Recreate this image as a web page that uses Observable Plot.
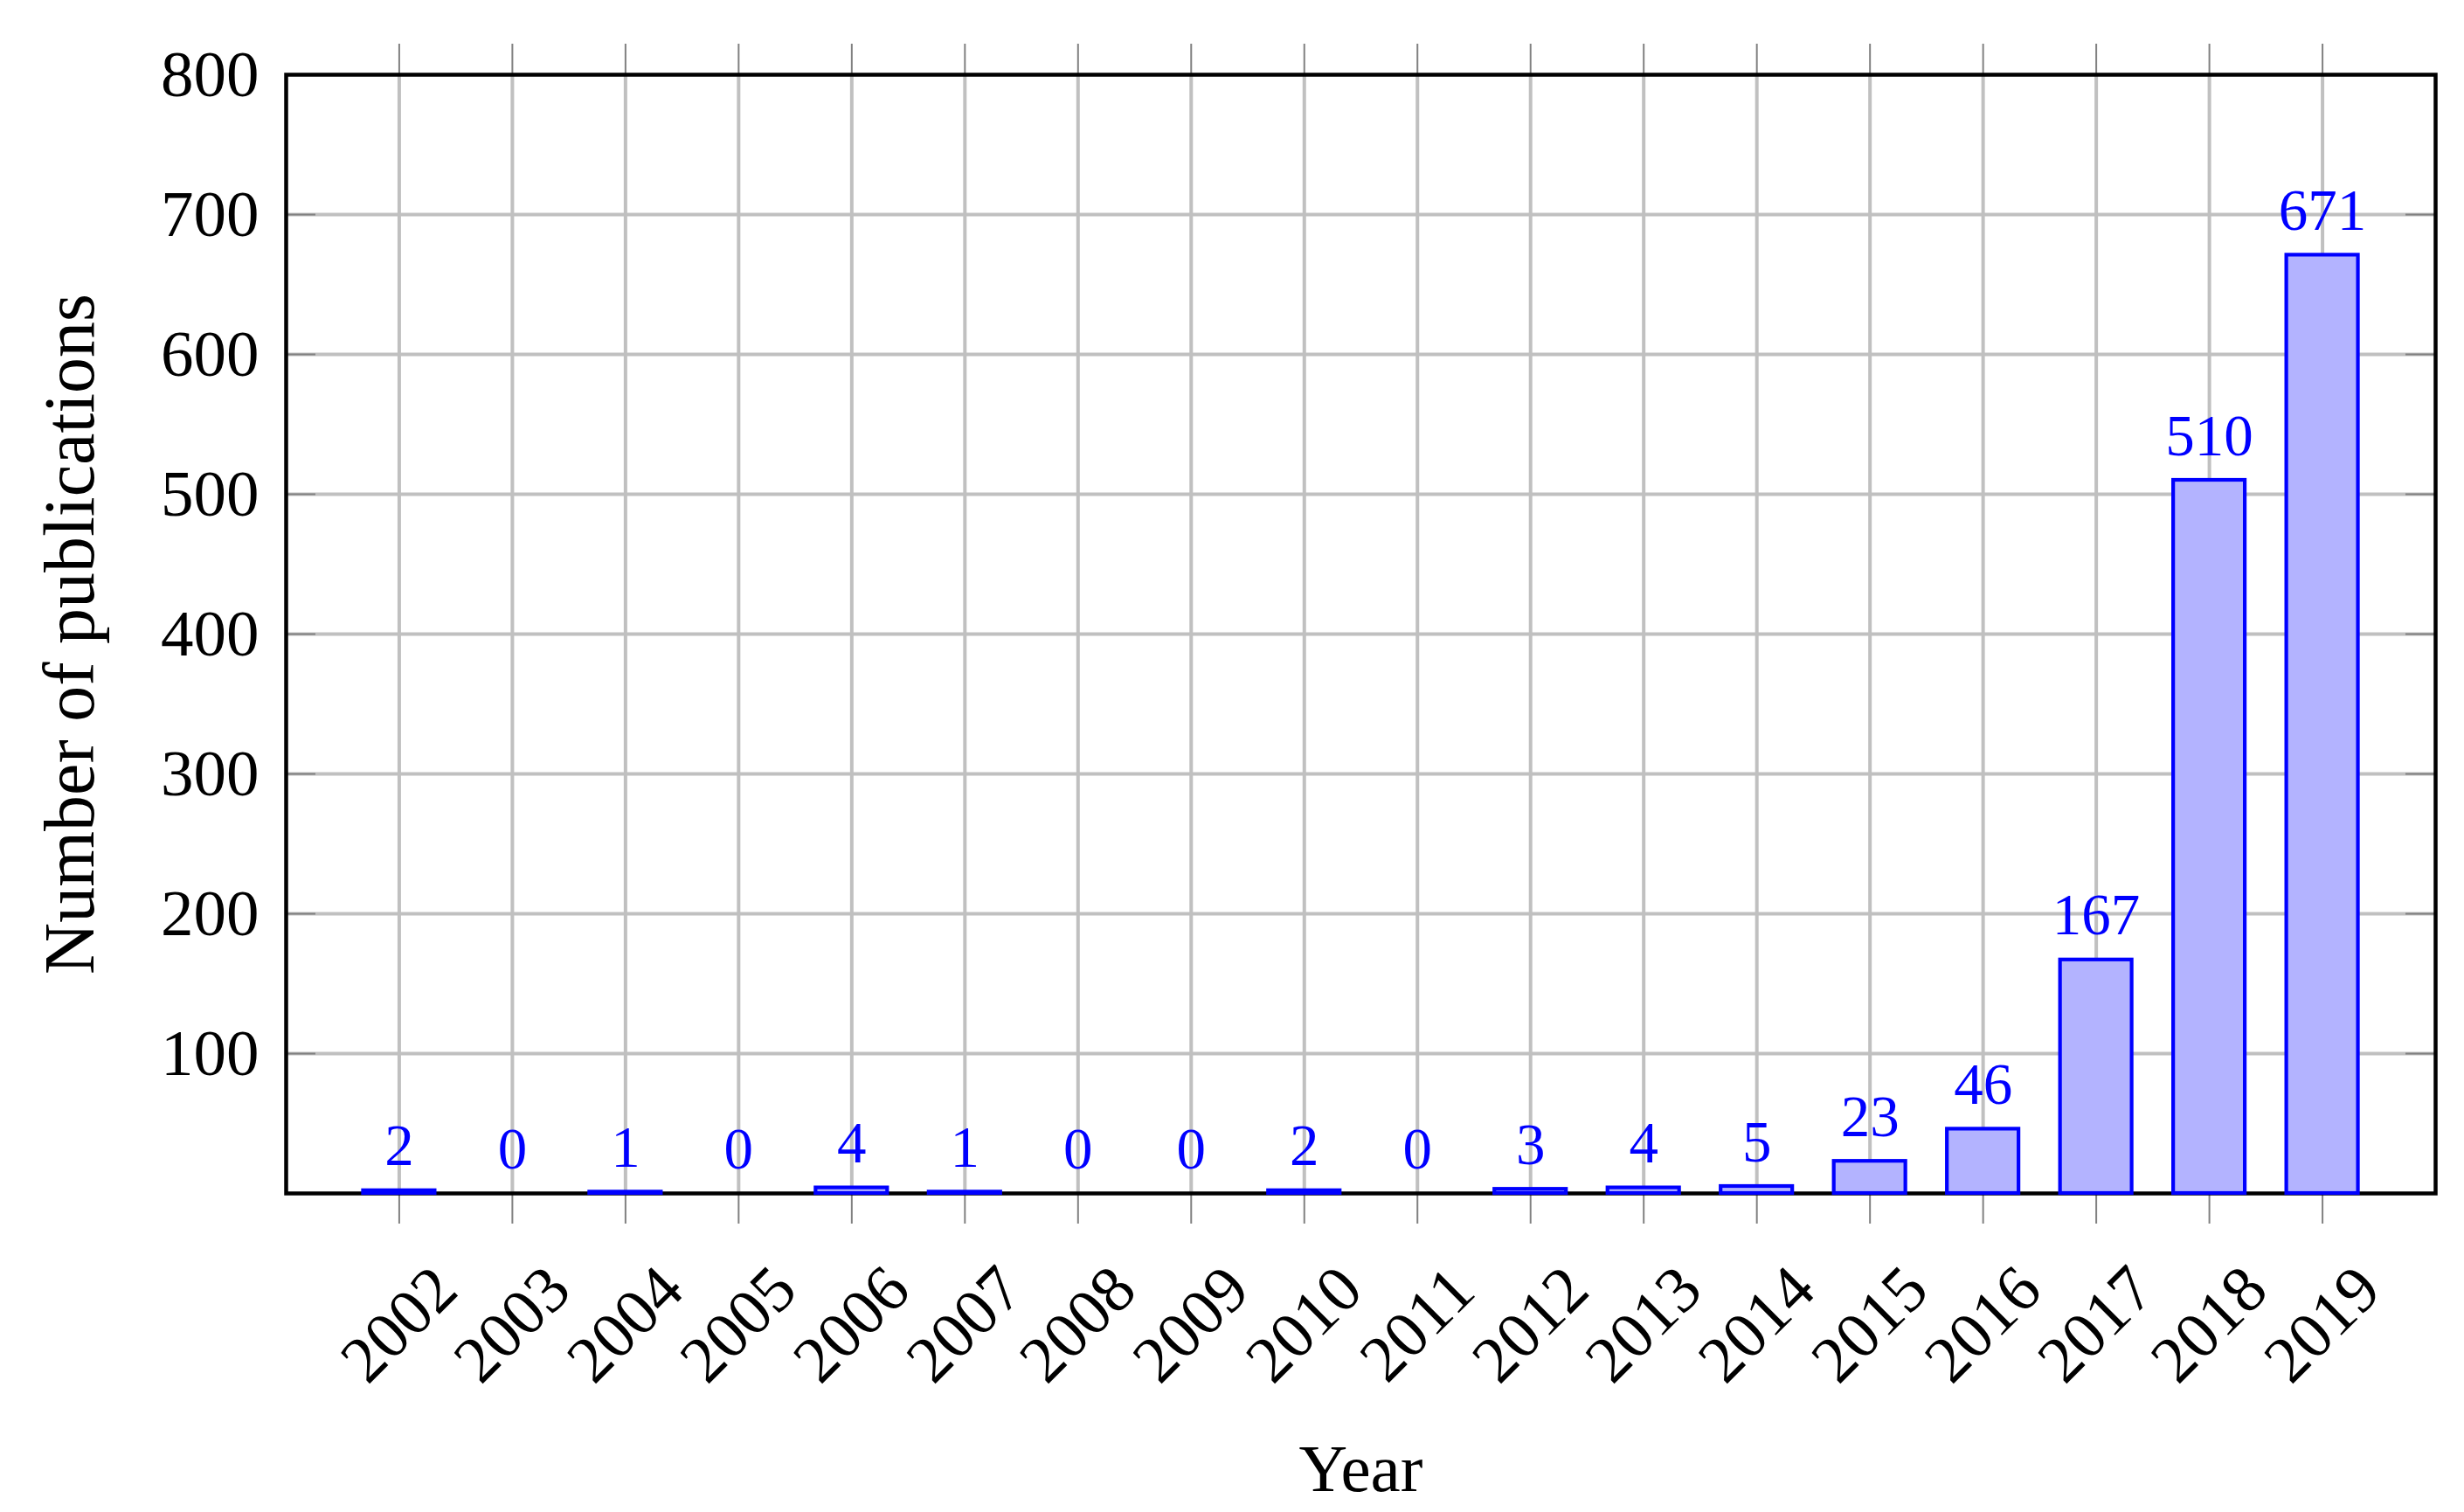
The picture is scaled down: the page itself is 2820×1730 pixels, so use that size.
<!DOCTYPE html>
<html>
<head>
<meta charset="utf-8">
<script src="https://cdn.jsdelivr.net/npm/d3@7"></script>
<script src="https://cdn.jsdelivr.net/npm/@observablehq/plot@0.6"></script>
<style>
  html, body { margin: 0; padding: 0; background: #ffffff; }
  #chart svg { display: block; }
</style>
</head>
<body>
<div id="chart"></div>
<script>
const years = [2002, 2003, 2004, 2005, 2006, 2007, 2008, 2009, 2010, 2011, 2012, 2013, 2014, 2015, 2016, 2017, 2018, 2019];
const counts = [2, 0, 1, 0, 4, 1, 0, 0, 2, 0, 3, 4, 5, 23, 46, 167, 510, 671];
const yTicks = [100, 200, 300, 400, 500, 600, 700, 800];
const yGrid = [100, 200, 300, 400, 500, 600, 700];
const yDomain = [0, 800];
const xTitle = "Year";
const yTitle = "Number of publications";

const data = years.map((year, i) => ({year, count: counts[i]}));

const W = 2820, H = 1730;
const mL = 327, mR = 33, mT = 85, mB = 365;
const innerW = W - mL - mR;
const innerH = H - mT - mB;
const font = "'Liberation Serif', 'Times New Roman', serif";
const yMid = (yDomain[0] + yDomain[1]) / 2;

const chart = Plot.plot({
  width: W,
  height: H,
  marginLeft: mL,
  marginRight: mR,
  marginTop: mT,
  marginBottom: mB,
  style: {fontFamily: font, background: "#ffffff", color: "#000000"},
  x: {type: "band", domain: years, paddingInner: 0.367, paddingOuter: 0.683, round: false, axis: null},
  y: {domain: yDomain, axis: null},
  marks: [
    Plot.gridX(years, {stroke: "#c0c0c0", strokeOpacity: 1, strokeWidth: 4}),
    Plot.gridY(yGrid, {stroke: "#c0c0c0", strokeOpacity: 1, strokeWidth: 4}),
    // inside ticks on left and right
    Plot.tickY(yGrid, {y: d => d, stroke: "#808080", strokeWidth: 2, insetRight: innerW - 34}),
    Plot.tickY(yGrid, {y: d => d, stroke: "#808080", strokeWidth: 2, insetLeft: innerW - 34}),
    // outside ticks on top and bottom
    Plot.tickX(years, {x: d => d, stroke: "#808080", strokeWidth: 2, insetTop: innerH, insetBottom: -35}),
    Plot.tickX(years, {x: d => d, stroke: "#808080", strokeWidth: 2, insetTop: -35, insetBottom: innerH}),
    Plot.frame({stroke: "#000000", strokeWidth: 4.5}),
    Plot.barY(data, {x: "year", y: "count", fill: "#b3b3ff", stroke: "#0000ff", strokeWidth: 4.2}),
    Plot.text(data, {x: "year", y: "count", text: d => String(d.count), lineAnchor: "bottom", dy: -29, fill: "#0000ff", fontSize: 67}),
    Plot.axisY({anchor: "left", ticks: yTicks, tickSize: 0, tickPadding: 31, fontSize: 75, label: null, tickFormat: d => String(d)}),
    Plot.text(years, {x: d => d, text: d => String(d), frameAnchor: "bottom", dy: 150, rotate: -45, textAnchor: "middle", lineAnchor: "middle", fontSize: 75, fill: "#000000"}),
    Plot.text([xTitle], {text: d => d, frameAnchor: "bottom", dy: 340, lineAnchor: "bottom", fontSize: 77, fill: "#000000"}),
    Plot.text([yTitle], {text: d => d, y: () => yMid, frameAnchor: "left", dx: -221, rotate: -90, textAnchor: "middle", lineAnchor: "bottom", fontSize: 82, fill: "#000000"})
  ]
});

document.getElementById("chart").appendChild(chart);
</script>
</body>
</html>
